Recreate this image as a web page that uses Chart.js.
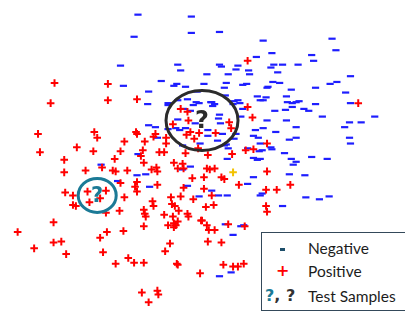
<!DOCTYPE html>
<html>
<head>
<meta charset="utf-8">
<script src="https://cdn.jsdelivr.net/npm/chart.js@4"></script>
<style>
  html, body { margin: 0; padding: 0; background: #fff; }
  #wrap { position: relative; width: 405px; height: 313px; overflow: hidden; }
  #legend {
    position: absolute; left: 261px; top: 232px; width: 160px; height: 79px;
    background: #fff; border: 1.5px solid #34495a; box-sizing: border-box;
    font-family: Lato, "Open Sans", sans-serif; font-size: 15.5px; color: #1c1c1c;
  }
  .row { position: absolute; left: 0; height: 20px; line-height: 20px; white-space: nowrap; }
  .sym { position: absolute; font-weight: bold; font-family: "DejaVu Sans", sans-serif; }
  .txt { position: absolute; left: 46px; }
  .dash { position: absolute; left: 18px; top: 10px; width: 5px; height: 3px; background: #1d4e6a; }
</style>
</head>
<body>
<div id="wrap">
  <canvas id="chart" width="405" height="313"></canvas>
  <div id="legend">
    <div class="row" style="top:5px"><span class="dash"></span><span class="txt">Negative</span></div>
    <div class="row" style="top:28px"><span class="sym" style="left:14px;color:#ff0000;font-size:16px">+</span><span class="txt">Positive</span></div>
    <div class="row" style="top:53px"><span class="sym" style="left:3px;font-size:16px"><span style="color:#1b7a96">?</span><span style="color:#333">,</span> <span style="color:#333">?</span></span><span class="txt">Test Samples</span></div>
  </div>
</div>
<script>
// training samples (feature 1 -> x, feature 2 -> y)
const negative = [
  [136,9],[191,11],[132,32],[191,28],[118,62],[177,61],[180,67],[121,83],[160,78],[176,81],
  [147,89],[146,102],[167,101],[187,97],[197,89],[196,100],[199,101],[183,107],[190,109],[147,124],
  [154,126],[185,127],[179,129],[195,122],[156,137],[182,145],[136,154],
  [220,27],[265,36],[336,34],[340,46],[274,49],[315,51],[317,57],[258,53],[220,61],[222,63],
  [239,62],[237,66],[250,67],[276,61],[285,61],[301,61],[273,64],[280,69],[207,71],[229,71],
  [251,71],[355,73],[204,81],[227,80],[244,82],[248,81],[275,79],[282,80],[270,84],[269,85],
  [294,87],[319,85],[334,81],[341,79],[350,90],[225,85],[226,93],[259,94],[268,95],[262,98],
  [265,98],[289,94],[239,98],[241,101],[235,99],[211,100],[215,102],[290,100],[295,101],[302,99],
  [299,100],[319,102],[355,101],[295,105],[307,107],[312,109],[288,108],[277,109],[244,107],[234,102],
  [220,113],[219,117],[221,122],[242,115],[269,119],[289,119],[326,115],[380,115],[354,121],[366,121],
  [349,126],[299,126],[265,127],[257,129],[278,131],[208,129],[237,133],[235,138],[255,135],[260,137],
  [299,137],[292,139],[354,137],[355,143],[262,143],[227,144],[229,148],[273,147],[274,149],[264,150],
  [261,151],[249,148],[287,153],
  [173,83],[185,84],[167,103],[177,98],[193,103],[212,100],[213,104],[177,118],[175,127],[208,135],
  [223,133],[218,140],[200,143],[167,128],[225,145],
  [98,165],[115,182],[135,176],[144,175],[148,188],[182,170],[190,167],[187,187],[199,198],
  [228,159],[255,158],[262,159],[259,160],[294,159],[299,162],[296,165],[315,157],[331,159],[255,178],
  [249,185],[292,175],[308,176],[212,192],[219,197],[228,197],[262,197],[264,195],[309,199],[323,201],
  [333,198],[285,208],[226,227],[242,229],[245,228],[234,238],[220,281],[232,277]
];

const positive = [
  [50,80],[105,81],[46,101],[105,98],[135,97],[180,107],[188,119],[172,123],[33,133],[91,131],
  [94,137],[134,131],[135,133],[154,133],[152,136],[165,137],[122,141],[143,141],[165,143],[186,134],
  [190,131],[199,132],[194,138],[73,147],[35,152],[90,151],[118,151],[141,150],[158,152],[163,152],
  [185,153],[198,148],[187,110],
  [249,57],[363,101],[249,105],[254,116],[230,121],[232,127],[216,132],[269,143],[247,150],[255,149],
  [233,154],[208,155],
  [60,160],[112,159],[139,156],[60,173],[82,171],[99,168],[110,171],[113,172],[125,171],[135,183],
  [133,188],[135,193],[142,163],[150,170],[155,168],[156,172],[156,186],[118,184],[173,163],[182,164],
  [177,169],[183,169],[192,179],[183,189],[180,198],[193,201],[61,194],[69,197],[69,207],[72,208],
  [84,193],[86,204],[103,192],[97,200],[103,215],[117,213],[122,199],[151,203],[152,208],[170,199],
  [171,206],[174,208],[142,212],[143,216],[144,219],[163,217],[172,219],[178,213],[187,216],[188,219],
  [167,228],[173,226],[177,224],[173,230],[175,228],[142,229],[49,225],[12,235],[49,246],[57,245],
  [29,252],[62,258],[104,235],[97,241],[121,234],[100,256],[169,247],[164,255],[126,262],[132,267],
  [113,268],[142,267],[176,268],[177,269],[200,278],[140,298],[156,296],[157,300],[147,308],[201,223],
  [207,169],[210,170],[215,169],[204,178],[222,178],[225,180],[269,172],[240,186],[268,191],[279,191],
  [293,186],[204,190],[212,197],[206,209],[214,207],[268,208],[269,214],[202,223],[207,228],[209,233],
  [215,233],[229,227],[246,229],[208,245],[222,246],[224,269],[234,271],[239,271],[245,268]
];

const highlighted = [[234,173]];

// unlabeled test samples
const testX = [202, 94];
const testY = [119, 197];
const testColors = ['#2b2b2b', '#1b7a96'];

const toPts = arr => arr.map(([x, y]) => ({ x, y }));

// draws the ring and "?" for each test sample
const testSamples = {
  id: 'testSamples',
  afterDatasetsDraw(chart) {
    const { ctx, scales } = chart;
    const radii = [[36, 30], [19, 17]];
    const fonts = ['bold 24px "DejaVu Sans", sans-serif', 'bold 21px "DejaVu Sans", sans-serif'];
    ctx.save();
    testX.forEach((tx, i) => {
      const px = scales.x.getPixelForValue(tx);
      const py = scales.y.getPixelForValue(testY[i]);
      ctx.beginPath();
      ctx.ellipse(px, py, radii[i][0], radii[i][1], 0, 0, Math.PI * 2);
      ctx.lineWidth = 3;
      ctx.strokeStyle = testColors[i];
      ctx.stroke();
      ctx.fillStyle = testColors[i];
      ctx.font = fonts[i];
      ctx.textAlign = 'center';
      ctx.textBaseline = 'middle';
      ctx.fillText('?', px, py + 1);
    });
    ctx.restore();
  }
};

new Chart(document.getElementById('chart').getContext('2d'), {
  type: 'scatter',
  data: {
    datasets: [
      {
        label: 'Positive',
        data: toPts(positive),
        pointStyle: 'cross',
        pointRadius: 3.8,
        pointHoverRadius: 3.8,
        borderColor: '#ff0000',
        backgroundColor: '#ff0000',
        borderWidth: 2,
      },
      {
        label: 'Highlighted',
        data: toPts(highlighted),
        pointStyle: 'cross',
        pointRadius: 3.8,
        borderColor: '#f2c200',
        borderWidth: 2,
      },
      {
        label: 'Negative',
        data: toPts(negative),
        pointStyle: 'line',
        pointRadius: 3.6,
        pointHoverRadius: 3.6,
        borderColor: '#1e1eff',
        backgroundColor: '#1e1eff',
        borderWidth: 2.2,
      },
    ],
  },
  options: {
    responsive: false,
    animation: false,
    layout: { padding: 0 },
    plugins: {
      legend: { display: false },
      tooltip: { enabled: false },
    },
    scales: {
      x: { type: 'linear', display: false, min: 0, max: 405 },
      y: { type: 'linear', display: false, min: 0, max: 313, reverse: true },
    },
  },
  plugins: [testSamples],
});
</script>
</body>
</html>
